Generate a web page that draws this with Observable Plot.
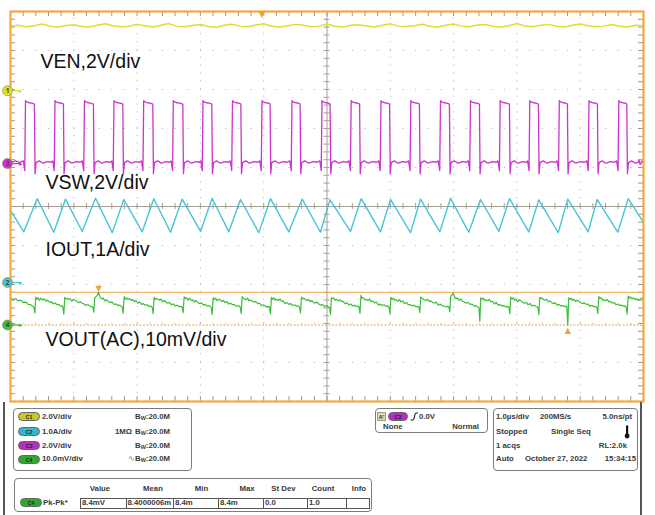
<!DOCTYPE html>
<html><head><meta charset="utf-8">
<script src="https://cdn.jsdelivr.net/npm/d3@7"></script>
<script src="https://cdn.jsdelivr.net/npm/@observablehq/plot@0.6"></script>
<style>
body{margin:0;background:#fff;}
#wrap{position:relative;width:655px;height:515px;overflow:hidden;background:#fff;font-family:"Liberation Sans",Arial,sans-serif;}
#wrap svg{display:block;}
</style>
</head><body><div id="wrap"></div>
<script>
// ---- channel settings (scale per division, ground offset in divisions from screen centre)
const chNames  = ["C1", "C2", "C3", "C4"];
const chScale  = [2, 1, 2, 10];          // V/div, A/div, V/div, mV/div
const chOffset = [2.97, -1.95, 1.10, -3.04];
const traceLabels = ["VEN,2V/div", "VSW,2V/div", "IOUT,1A/div", "VOUT(AC),10mV/div"];

// ---- C1 VEN (V), one reading every venStep µs
const venStep = 0.125;
const venV = [3.30,3.36,3.28,3.33,3.42,3.31,3.26,3.34,3.38,3.29,
  3.27,3.35,3.43,3.32,3.28,3.30,3.40,3.33,3.26,3.36,
  3.44,3.31,3.28,3.34,3.39,3.29,3.25,3.35,3.41,3.31,
  3.28,3.37,3.43,3.30,3.27,3.33,3.40,3.35,3.28,3.31,
  3.42,3.30,3.26,3.35,3.38,3.32,3.27,3.36,3.43,3.31,
  3.29,3.33,3.41,3.30,3.26,3.35,3.42,3.31,3.28,3.37,
  3.39,3.30,3.27,3.33,3.44,3.32,3.28,3.35,3.40,3.30,
  3.26,3.36,3.42,3.33,3.29,3.31,3.39,3.30,3.27,3.35,3.33];

// ---- C3 VSW edges (µs) and levels (V)
const vswRise = [0.237,0.703,1.169,1.635,2.104,2.572,3.041,3.507,3.973,4.447,4.921,5.382,5.853,6.324,6.793,7.267,7.736,8.204,8.670,9.139,9.610];
const vswFall = [0.384,0.842,1.316,1.780,2.254,2.728,3.186,3.645,4.107,4.581,5.055,5.521,5.995,6.466,6.940,7.414,7.888,8.346,8.804,9.278,9.742];
const vswLevel = {overshoot: 3.23, high: 3.12, highEnd: 3.05, low: 0.05, ripple: 0.14, dipFall: -0.52, dipRise: -0.36};

// ---- C2 IOUT valleys / peaks (µs, A)
const ioutStart = 1.85, ioutEnd = 1.54;
const ioutTroughT = [0.210,0.684,1.133,1.607,2.081,2.528,3.002,3.449,3.923,4.397,4.897,5.371,5.845,6.319,6.782,7.240,7.714,8.188,8.653,9.126,9.594];
const ioutTroughV = [1.30,1.29,1.31,1.28,1.30,1.29,1.31,1.30,1.28,1.30,1.29,1.31,1.30,1.28,1.30,1.29,1.31,1.30,1.28,1.30,1.29];
const ioutPeakT = [0.422,0.869,1.343,1.790,2.264,2.712,3.186,3.633,4.107,4.608,5.047,5.540,6.003,6.477,6.951,7.425,7.883,8.346,8.804,9.268,9.758];
const ioutPeakV = [2.15,2.14,2.16,2.13,2.15,2.14,2.16,2.13,2.15,2.14,2.12,2.15,2.13,2.14,2.16,2.13,2.15,2.12,2.14,2.13,2.15];

// ---- C4 VOUT ripple (mV): readings before the first switching event, then one row per
// switching event (event times = vswFall), read at the offsets (µs) after each event
const voutHead = [[0.00,7.0],[0.04,6.5],[0.08,6.8],[0.12,6.2],[0.16,6.4],[0.20,5.8],[0.24,5.9],[0.28,5.3],[0.32,5.2],[0.35,4.8]];
const voutOffsets = [-0.015,0,0.015,0.035,0.055,0.075,0.10,0.125,0.15,0.175,0.20,0.23,0.26,0.29,0.32,0.35,0.38,0.41,0.435];
const voutRows = [
[4.6,3.1,7.2,6.6,7.0,6.3,6.9,6.4,6.7,6.1,6.4,5.9,6.0,5.4,5.7,5.2,5.3,4.8,4.9],
[4.5,2.8,7.1,6.7,6.9,6.5,6.8,6.1,6.6,6.3,6.2,5.7,6.0,5.6,5.4,5.0,5.3,4.9,4.7],
[4.7,3.3,7.0,7.3,7.6,8.4,7.1,6.7,6.9,6.2,6.5,6.0,5.8,5.9,5.3,5.4,5.0,5.1,4.8],
[4.6,3.0,7.3,6.6,7.0,6.5,6.8,6.3,6.6,6.0,6.3,5.6,5.9,5.3,5.5,5.1,5.2,4.7,4.9],
[4.5,2.9,7.1,6.5,6.9,6.6,6.4,6.7,6.0,6.3,5.9,5.6,5.8,5.2,5.4,4.9,5.1,4.7,4.8],
[4.6,3.2,7.2,6.8,7.0,6.4,6.9,6.3,6.5,5.9,6.3,5.8,5.5,5.7,5.1,5.3,4.9,5.0,4.6],
[4.5,2.7,7.0,6.6,6.9,6.3,6.6,6.5,6.0,6.4,5.8,6.0,5.4,5.6,5.2,5.3,4.8,5.0,4.7],
[4.6,3.0,7.3,6.8,6.7,6.5,6.9,6.2,6.4,6.1,5.9,6.0,5.5,5.6,5.0,5.2,4.9,4.6,4.8],
[4.4,2.9,7.1,6.6,7.0,6.4,6.6,6.3,6.7,6.1,6.2,5.5,5.8,5.3,5.5,5.0,5.2,4.8,4.9],
[4.6,3.1,7.2,6.7,6.9,6.5,6.3,6.6,6.0,6.3,5.9,5.6,5.9,5.4,5.1,5.3,4.8,5.0,4.7],
[4.5,2.8,7.0,6.8,6.9,6.4,6.6,6.2,6.5,6.0,6.1,5.5,5.7,5.2,5.4,4.9,5.1,4.7,4.9],
[4.6,3.0,7.6,6.9,7.0,6.5,6.6,6.3,6.7,6.0,6.2,5.7,5.9,5.1,5.4,5.0,5.2,4.8,4.9],
[4.5,2.9,7.1,6.6,6.9,6.4,6.5,6.1,6.6,5.9,6.2,5.5,5.8,5.2,5.3,4.9,5.1,4.7,4.8],
[4.6,3.2,7.2,6.8,6.7,6.5,6.3,6.6,6.0,6.2,5.8,5.6,5.9,5.1,5.4,5.0,4.9,4.7,4.8],
[4.7,3.4,7.4,7.7,8.2,7.2,6.8,6.9,6.3,6.7,6.1,5.9,5.6,5.8,5.3,5.4,4.9,5.0,4.7],
[4.5,1.0,7.0,6.6,6.9,6.3,6.5,6.2,6.6,5.9,6.1,5.4,5.8,5.1,5.3,4.9,5.0,4.6,4.8],
[4.6,2.9,7.2,6.7,7.0,6.4,6.6,6.0,6.5,6.2,5.9,5.6,5.8,5.2,5.5,4.9,5.1,4.8,4.7],
[4.5,2.7,7.1,6.8,6.9,6.5,6.4,6.6,5.9,6.2,5.8,5.5,5.7,5.1,5.3,4.9,5.0,4.7,4.9],
[4.6,0.0,7.0,6.6,6.9,6.3,6.6,6.0,6.4,6.1,5.8,5.5,5.7,5.3,5.4,4.8,5.1,4.7,4.8],
[4.5,3.0,7.3,6.8,7.0,6.4,6.5,6.2,6.6,5.9,6.1,5.6,5.8,5.2,5.4,5.0,5.1,4.8,4.9],
[4.6,2.8,7.4,6.9,7.2,6.7,7.0,6.5,6.8,6.3,6.6,6.9,6.6,6.4,6.2,6.0,5.8,5.6,5.4]];
const voutTail = [[10.0, 6.6]];

// trigger time (C3 rising edge, µs)
const triggerT = 3.973;

// ---------- build tables ----------
const toDiv = (ch, v) => chOffset[ch] + v / chScale[ch];
const ven = venV.map((v, i) => ({t: i * venStep, y: toDiv(0, v)}));

const L = vswLevel;
const vswPts = [[0, L.low], [0.08, L.ripple], [0.15, L.low]];
vswRise.forEach((r, i) => {
  const f = vswFall[i];
  vswPts.push([r - 0.035, L.ripple], [r - 0.012, L.dipRise], [r, L.overshoot], [r + 0.02, L.high + 0.04],
              [r + 0.06, L.high], [r + 0.1, L.high - 0.02], [f - 0.006, L.highEnd], [f + 0.004, L.dipFall], [f + 0.02, L.low]);
  const next = i + 1 < vswRise.length ? vswRise[i + 1] : 10.0;
  [[0.07, L.ripple], [0.13, L.low - 0.03], [0.2, L.ripple - 0.04], [0.26, L.low + 0.02]].forEach(([dt, v]) => {
    if (f + dt < next - 0.04) vswPts.push([f + dt, v]);
  });
});
vswPts.push([9.92, L.ripple + 0.05], [9.95, -0.05], [9.98, L.ripple], [10, L.low]);
const vsw = vswPts.map(([t, v]) => ({t, y: toDiv(2, v)}));

const ioutPts = [[0, ioutStart]];
ioutTroughT.forEach((t, i) => { ioutPts.push([t, ioutTroughV[i]], [ioutPeakT[i], ioutPeakV[i]]); });
ioutPts.push([10, ioutEnd]);
const iout = ioutPts.map(([t, v]) => ({t, y: toDiv(1, v)}));

const vout = [...voutHead];
voutRows.forEach((row, k) => row.forEach((v, j) => {
  const t = vswFall[k] + voutOffsets[j];
  if (t < 9.995) vout.push([t, v]);
}));
vout.push(...voutTail);
const voutD = vout.map(([t, v]) => ({t, y: toDiv(3, v)}));
const vMaxPt = vout.reduce((a, b) => (b[1] > a[1] ? b : a));
const vMinPt = vout.reduce((a, b) => (b[1] < a[1] ? b : a));

// ---------- graticule helpers ----------
const minorT = d3.range(1, 50).map(i => i * 0.2);
const minorY = d3.range(-24, 25).map(i => i * 0.2);
const majorT = [1, 2, 3, 4, 6, 7, 8, 9];
const majorY = [-4, -3, -2, -1, 1, 2, 3, 4];
const pxX = 10 / 633, pxY = 10 / 390;

const colors = ["#dede2c", "#45c6d4", "#cc35cc", "#3cbd3c"];
const markerOrder = [0, 2, 1, 3];
const markerNum = ["1", "2", "3", "4"];
const labelPos = [[0.474, 3.54], [0.553, 0.46], [0.553, -1.26], [0.553, -3.58]];
const orange = "#f2aa3c";

const chart = Plot.plot({
  width: 655, height: 405,
  marginLeft: 10, marginRight: 12, marginTop: 11, marginBottom: 4,
  x: {domain: [0, 10], axis: null},
  y: {domain: [-5, 5], axis: null},
  style: {background: "transparent", overflow: "visible"},
  marks: [
    Plot.ruleX(majorT, {y1: -5, y2: 5, stroke: "#bdbdbd", strokeDasharray: "1.2 6.6"}),
    Plot.ruleY(majorY, {x1: 0, x2: 10, stroke: "#bdbdbd", strokeDasharray: "1.2 11.46"}),
    Plot.ruleX([5], {y1: -5, y2: 5, stroke: "#a89f94", strokeWidth: 1}),
    Plot.ruleY([0], {x1: 0, x2: 10, stroke: "#a89f94", strokeWidth: 1}),
    Plot.ruleX(minorT, {y1: -3 * pxY, y2: 3 * pxY, stroke: "#a89f94"}),
    Plot.ruleY(minorY, {x1: 5 - 3 * pxX, x2: 5 + 3 * pxX, stroke: "#a89f94"}),
    Plot.ruleX(minorT, {y1: 5, y2: 5 - 5 * pxY, stroke: "#9a9a9a"}),
    Plot.ruleX(minorT, {y1: -5, y2: -5 + 5 * pxY, stroke: "#9a9a9a"}),
    Plot.ruleY(minorY, {x1: 0, x2: 5 * pxX, stroke: "#9a9a9a"}),
    Plot.ruleY(minorY, {x1: 10 - 5 * pxX, x2: 10, stroke: "#9a9a9a"}),
    // cursors on C4
    Plot.ruleY([vMaxPt], {y: d => toDiv(3, d[1]), x1: 0, x2: 10, stroke: "#efa646", strokeWidth: 1}),
    Plot.ruleY([vMinPt], {y: d => toDiv(3, d[1]), x1: 0, x2: 10, stroke: "#e9a240", strokeWidth: 1, strokeDasharray: "2 1.5"}),
    // traces
    Plot.line(ven, {x: "t", y: "y", stroke: colors[0], strokeWidth: 1.5}),
    Plot.line(vsw, {x: "t", y: "y", stroke: colors[2], strokeWidth: 1.3}),
    Plot.line(iout, {x: "t", y: "y", stroke: colors[1], strokeWidth: 1.4}),
    Plot.line(voutD, {x: "t", y: "y", stroke: colors[3], strokeWidth: 1.2}),
    Plot.frame({stroke: orange, strokeWidth: 2.2}),
    // markers
    Plot.text([vMaxPt], {x: d => d[0], y: d => toDiv(3, d[1]), text: () => "▼", fill: "#f0a030", fontSize: 8, dy: -3.5, fontFamily: "DejaVu Sans"}),
    Plot.text([vMinPt], {x: d => d[0], y: d => toDiv(3, d[1]), text: () => "▲", fill: "#f0a030", fontSize: 8, dy: 5.5, fontFamily: "DejaVu Sans"}),
    Plot.text([triggerT], {x: d => d, y: 5, text: () => "▼", fill: "#f0a030", fontSize: 9, dy: 3, fontFamily: "DejaVu Sans"}),
    // trace labels
    Plot.text(traceLabels, {x: (d, i) => labelPos[i][0], y: (d, i) => labelPos[i][1], text: d => d,
      textAnchor: "start", lineAnchor: "bottom", fontSize: 19.5, fill: "#111", fontFamily: "Liberation Sans, Arial, sans-serif"}),
    // channel ground markers
    Plot.ruleY(markerOrder, {y: i => chOffset[i], x1: 0.03, x2: 0.15, stroke: i => colors[i], strokeWidth: 1.2}),
    Plot.text(markerOrder, {x: 0.16, y: i => chOffset[i], text: () => "▸", fill: i => colors[i], fontSize: 7, fontFamily: "DejaVu Sans"}),
    Plot.dot(markerOrder, {x: 0, y: i => chOffset[i], dx: -3, r: 5, fill: i => colors[i], stroke: "#8a8a40", strokeWidth: 0.6}),
    Plot.text(markerOrder, {x: 0, y: i => chOffset[i], dx: -3, text: i => markerNum[i], fill: "#444", fontSize: 6.5, fontWeight: "bold"})
  ]
});
const wrap = document.getElementById("wrap");
wrap.appendChild(chart);

// ---------- bottom status panel ----------
function el(css, html) { const e = document.createElement("div"); e.style.cssText = "position:absolute;" + css; if (html != null) e.innerHTML = html; wrap.appendChild(e); return e; }
function txt(x, yc, s, anchor = "start", size = 7.8) {
  const base = `top:${yc - 5}px;height:10px;line-height:10px;font-weight:bold;font-size:${size}px;color:#3a3a3a;white-space:nowrap;`;
  if (anchor === "start") el(base + `left:${x}px;`, s);
  else if (anchor === "end") el(base + `right:${655 - x}px;`, s);
  else el(base + `left:${x - 40}px;width:80px;text-align:center;`, s);
}
function box(x, y, w, h) { el(`left:${x}px;top:${y}px;width:${w}px;height:${h}px;border:1px solid #7c7c7c;border-radius:4px;box-sizing:border-box;background:#fff;`); }
const pillColors = ["#c8c82a", "#33b8c8", "#b42fbe", "#2ea82e"];
function pill(x, yc, ch, w = 22) {
  el(`left:${x}px;top:${yc - 4.5}px;width:${w}px;height:9px;border-radius:5px;background:${pillColors[ch]};border:0.5px solid #666;box-sizing:border-box;font-size:5px;line-height:8px;text-align:center;color:#222;font-weight:bold;`, chNames[ch]);
}
// panel outer lines
el("left:3px;top:402px;width:2px;height:113px;background:#555;");
el("left:640px;top:402px;width:2px;height:113px;background:#555;");

// channel setup box
box(13, 408, 179, 63);
const rowsY = [416.7, 431.7, 445.7, 459];
const chDiv = ["2.0V/div", "1.0A/div", "2.0V/div", "10.0mV/div"];
const boxOrder = [0, 1, 2, 3];
boxOrder.forEach((ch, r) => {
  pill(18, rowsY[r], ch);
  txt(42, rowsY[r], chDiv[ch]);
  txt(135, rowsY[r], "B<sub style='font-size:5.5px;vertical-align:-1px'>W</sub>:20.0M");
});
txt(115, rowsY[1], "1MΩ");
txt(128, rowsY[3], "<span style='font-weight:normal;color:#777'>∿</span>");

// trigger box
box(375, 408, 113, 25);
el("left:377px;top:412px;width:9px;height:9px;background:#e6d6a8;border:0.5px solid #999;box-sizing:border-box;font-size:5.5px;line-height:9px;text-align:center;font-weight:bold;color:#333;", "A'");
pill(388, 416.5, 2, 20);
el("left:410px;top:412px;width:8px;height:9px;", "<svg width='8' height='9'><path d='M0.5,8 L2.5,8 Q4,8 4.5,4.5 Q5,1 6.5,1 L8,1' stroke='#222' stroke-width='1.1' fill='none'/></svg>");
txt(419, rowsY[0], "0.0V");
txt(383, 427, "None");
txt(479, 427, "Normal", "end");

// timebase box
box(493, 408, 145, 63);
txt(496, rowsY[0], "1.0µs/div");
txt(540, rowsY[0], "200MS/s");
txt(632, rowsY[0], "5.0ns/pt", "end");
txt(496, rowsY[1], "Stopped");
txt(551, rowsY[1], "Single Seq");
el("left:623px;top:425px;width:8px;height:14px;", "<svg width='8' height='14'><rect x='3' y='0.5' width='2.2' height='9' fill='#111'/><circle cx='4.1' cy='11' r='2.4' fill='#111'/></svg>");
txt(496, rowsY[2], "1 acqs");
txt(627, rowsY[2], "RL:2.0k", "end");
txt(496, rowsY[3], "Auto");
txt(525, rowsY[3], "October 27, 2022");
txt(636, rowsY[3], "15:34:15", "end");

// measurement box
box(14, 478, 358, 34);
const measHead = ["Value", "Mean", "Min", "Max", "St Dev", "Count", "Info"];
const measVal = ["8.4mV", "8.4000006m", "8.4m", "8.4m", "0.0", "1.0", ""];
const headX = [100, 153, 201.5, 247, 283.5, 323, 359];
const cellX = [80, 125.5, 173, 218, 263, 307, 346, 369];
measHead.forEach((h, i) => txt(headX[i], 489, h, "middle"));
measVal.forEach((v, i) => {
  el(`left:${cellX[i]}px;top:497.5px;width:${cellX[i + 1] - cellX[i] + 1}px;height:11px;border:1px solid #555;box-sizing:border-box;background:#fff;`);
  txt(cellX[i] + 2, 502.5, v);
});
pill(20, 502.5, 3);
txt(43, 502.5, "Pk-Pk*");
</script>
</body></html>
